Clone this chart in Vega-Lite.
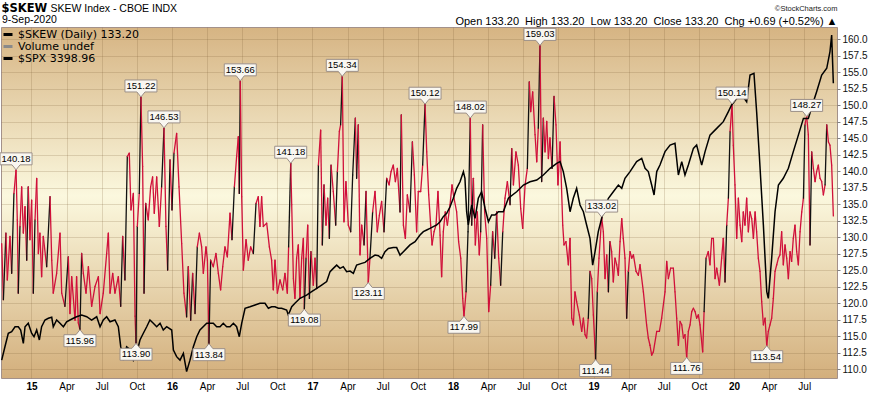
{
  "$schema": "https://vega.github.io/schema/vega-lite/v6.json",
  "width": 836,
  "height": 351,
  "autosize": {"type": "none"},
  "padding": {"left": 1, "top": 27, "right": 33, "bottom": 15},
  "background": "#ffffff",
  "config": {
    "view": {
      "fill": {"gradient": "linear", "x1": 0, "y1": 0, "x2": 0, "y2": 1,
        "stops": [{"offset": 0, "color": "#d6b483"}, {"offset": 0.48, "color": "#fbf8de"}, {"offset": 1, "color": "#d3af7c"}]},
      "stroke": "#a3918a",
      "strokeWidth": 1
    },
    "font": "Liberation Sans"
  },
  "datasets": {
    "skew": [
      {"t":2014.788,"v":129.0},{"t":2014.800,"v":120.5},{"t":2014.818,"v":130.6},{"t":2014.828,"v":123.5},{"t":2014.847,"v":130.1},{"t":2014.859,"v":124.5},{"t":2014.875,"v":136.6},{"t":2014.890,"v":140.18},{"t":2014.899,"v":132.6},{"t":2014.906,"v":121.5},{"t":2014.918,"v":131.6},{"t":2014.930,"v":137.6},{"t":2014.942,"v":130.6},{"t":2014.954,"v":134.6},{"t":2014.966,"v":126.5},{"t":2014.977,"v":137.6},{"t":2014.989,"v":129.6},{"t":2015.001,"v":135.6},{"t":2015.013,"v":121.5},{"t":2015.025,"v":132.6},{"t":2015.037,"v":138.9},{"t":2015.049,"v":127.5},{"t":2015.060,"v":130.6},{"t":2015.072,"v":124.0},{"t":2015.084,"v":130.1},{"t":2015.108,"v":125.5},{"t":2015.132,"v":136.1},{"t":2015.144,"v":126.5},{"t":2015.155,"v":121.5},{"t":2015.179,"v":124.5},{"t":2015.203,"v":130.6},{"t":2015.215,"v":121.5},{"t":2015.238,"v":119.5},{"t":2015.262,"v":127.0},{"t":2015.274,"v":118.4},{"t":2015.286,"v":124.0},{"t":2015.310,"v":117.4},{"t":2015.321,"v":124.0},{"t":2015.333,"v":117.0},{"t":2015.345,"v":115.96},{"t":2015.357,"v":127.5},{"t":2015.369,"v":124.5},{"t":2015.388,"v":121.5},{"t":2015.405,"v":125.5},{"t":2015.428,"v":119.5},{"t":2015.452,"v":122.5},{"t":2015.476,"v":124.0},{"t":2015.488,"v":118.4},{"t":2015.511,"v":121.5},{"t":2015.535,"v":127.5},{"t":2015.547,"v":130.6},{"t":2015.559,"v":121.5},{"t":2015.578,"v":124.5},{"t":2015.594,"v":121.5},{"t":2015.618,"v":124.0},{"t":2015.635,"v":119.5},{"t":2015.649,"v":130.1},{"t":2015.665,"v":123.5},{"t":2015.682,"v":142.2},{"t":2015.696,"v":142.7},{"t":2015.708,"v":134.1},{"t":2015.725,"v":136.6},{"t":2015.737,"v":118.0},{"t":2015.744,"v":113.90},{"t":2015.753,"v":131.6},{"t":2015.767,"v":136.6},{"t":2015.779,"v":151.22},{"t":2015.791,"v":140.7},{"t":2015.801,"v":121.5},{"t":2015.813,"v":135.1},{"t":2015.831,"v":132.6},{"t":2015.848,"v":137.6},{"t":2015.862,"v":139.1},{"t":2015.874,"v":133.6},{"t":2015.891,"v":139.1},{"t":2015.910,"v":131.6},{"t":2015.926,"v":137.6},{"t":2015.943,"v":146.53},{"t":2015.957,"v":131.6},{"t":2015.969,"v":125.0},{"t":2015.986,"v":141.7},{"t":2016.000,"v":134.1},{"t":2016.014,"v":142.7},{"t":2016.033,"v":145.7},{"t":2016.050,"v":137.6},{"t":2016.069,"v":129.0},{"t":2016.085,"v":121.5},{"t":2016.104,"v":117.9},{"t":2016.116,"v":125.5},{"t":2016.133,"v":117.4},{"t":2016.147,"v":124.5},{"t":2016.164,"v":118.4},{"t":2016.180,"v":128.5},{"t":2016.195,"v":130.6},{"t":2016.211,"v":128.5},{"t":2016.223,"v":124.5},{"t":2016.242,"v":128.5},{"t":2016.252,"v":126.5},{"t":2016.263,"v":113.84},{"t":2016.275,"v":126.5},{"t":2016.294,"v":125.5},{"t":2016.313,"v":127.5},{"t":2016.330,"v":124.5},{"t":2016.346,"v":122.0},{"t":2016.361,"v":125.5},{"t":2016.377,"v":128.5},{"t":2016.394,"v":127.0},{"t":2016.413,"v":133.6},{"t":2016.427,"v":129.6},{"t":2016.444,"v":137.6},{"t":2016.460,"v":142.2},{"t":2016.472,"v":145.2},{"t":2016.479,"v":136.6},{"t":2016.486,"v":153.66},{"t":2016.496,"v":136.1},{"t":2016.508,"v":125.0},{"t":2016.527,"v":129.6},{"t":2016.543,"v":126.5},{"t":2016.560,"v":128.5},{"t":2016.579,"v":127.5},{"t":2016.598,"v":135.1},{"t":2016.614,"v":136.1},{"t":2016.626,"v":131.6},{"t":2016.638,"v":136.1},{"t":2016.650,"v":131.6},{"t":2016.674,"v":132.1},{"t":2016.693,"v":128.5},{"t":2016.709,"v":126.5},{"t":2016.721,"v":122.0},{"t":2016.733,"v":126.5},{"t":2016.750,"v":121.5},{"t":2016.769,"v":123.5},{"t":2016.788,"v":122.0},{"t":2016.804,"v":124.5},{"t":2016.821,"v":121.5},{"t":2016.830,"v":128.5},{"t":2016.845,"v":141.18},
      {"t":2016.852,"v":134.9},{"t":2016.864,"v":123.7},{"t":2016.875,"v":120.7},{"t":2016.887,"v":126.8},{"t":2016.899,"v":128.8},{"t":2016.911,"v":120.7},{"t":2016.923,"v":126.8},{"t":2016.935,"v":129.8},{"t":2016.942,"v":119.08},{"t":2016.954,"v":126.8},{"t":2016.966,"v":131.8},{"t":2016.978,"v":120.7},{"t":2016.989,"v":127.8},{"t":2017.006,"v":122.7},{"t":2017.018,"v":126.8},{"t":2017.030,"v":122.2},{"t":2017.042,"v":140.9},{"t":2017.058,"v":146.2},{"t":2017.070,"v":128.8},{"t":2017.082,"v":137.9},{"t":2017.096,"v":131.8},{"t":2017.108,"v":135.9},{"t":2017.120,"v":129.8},{"t":2017.132,"v":140.9},{"t":2017.148,"v":136.9},{"t":2017.165,"v":131.8},{"t":2017.177,"v":139.9},{"t":2017.191,"v":146.0},{"t":2017.200,"v":147.0},{"t":2017.212,"v":154.34},{"t":2017.224,"v":132.3},{"t":2017.238,"v":138.4},{"t":2017.255,"v":131.8},{"t":2017.272,"v":130.8},{"t":2017.286,"v":139.4},{"t":2017.305,"v":148.0},{"t":2017.314,"v":138.9},{"t":2017.326,"v":147.0},{"t":2017.338,"v":127.3},{"t":2017.350,"v":131.8},{"t":2017.367,"v":128.8},{"t":2017.381,"v":136.9},{"t":2017.397,"v":123.11},{"t":2017.409,"v":126.8},{"t":2017.428,"v":133.8},{"t":2017.445,"v":136.9},{"t":2017.461,"v":130.8},{"t":2017.476,"v":133.3},{"t":2017.492,"v":135.4},{"t":2017.509,"v":130.8},{"t":2017.528,"v":138.9},{"t":2017.545,"v":137.9},{"t":2017.559,"v":139.9},{"t":2017.575,"v":140.9},{"t":2017.590,"v":138.4},{"t":2017.604,"v":140.4},{"t":2017.623,"v":133.8},{"t":2017.632,"v":148.5},{"t":2017.647,"v":131.8},{"t":2017.661,"v":129.8},{"t":2017.675,"v":136.4},{"t":2017.694,"v":133.8},{"t":2017.711,"v":144.4},{"t":2017.725,"v":139.4},{"t":2017.741,"v":130.8},{"t":2017.753,"v":136.9},{"t":2017.770,"v":136.9},{"t":2017.784,"v":140.9},{"t":2017.801,"v":150.12},{"t":2017.813,"v":142.9},{"t":2017.827,"v":136.4},{"t":2017.841,"v":131.8},{"t":2017.851,"v":128.8},{"t":2017.865,"v":130.8},{"t":2017.879,"v":131.8},{"t":2017.893,"v":136.9},{"t":2017.908,"v":130.3},{"t":2017.919,"v":124.0},{"t":2017.931,"v":130.8},{"t":2017.945,"v":133.8},{"t":2017.960,"v":131.8},{"t":2017.979,"v":134.9},{"t":2017.993,"v":137.9},{"t":2018.007,"v":135.9},{"t":2018.026,"v":133.8},{"t":2018.040,"v":129.3},{"t":2018.055,"v":126.8},{"t":2018.069,"v":120.7},{"t":2018.078,"v":117.99},{"t":2018.093,"v":121.7},{"t":2018.107,"v":130.8},{"t":2018.123,"v":148.02},{"t":2018.133,"v":131.8},{"t":2018.145,"v":138.9},{"t":2018.159,"v":128.8},{"t":2018.173,"v":133.8},{"t":2018.187,"v":127.3},{"t":2018.197,"v":130.8},{"t":2018.211,"v":147.0},{"t":2018.225,"v":133.8},{"t":2018.240,"v":129.8},{"t":2018.254,"v":118.7},{"t":2018.268,"v":122.7},{"t":2018.282,"v":130.8},{"t":2018.297,"v":126.8},{"t":2018.311,"v":133.8},{"t":2018.325,"v":126.8},{"t":2018.339,"v":122.7},{"t":2018.354,"v":130.8},{"t":2018.370,"v":135.9},{"t":2018.387,"v":138.4},{"t":2018.406,"v":134.9},{"t":2018.418,"v":143.4},{"t":2018.430,"v":137.9},{"t":2018.448,"v":142.9},{"t":2018.465,"v":140.9},{"t":2018.482,"v":134.3},{"t":2018.496,"v":131.3},{"t":2018.513,"v":137.9},{"t":2018.529,"v":140.4},{"t":2018.543,"v":153.5},{"t":2018.553,"v":149.0},{"t":2018.567,"v":152.0},{"t":2018.584,"v":145.5},{"t":2018.596,"v":141.4},{"t":2018.607,"v":146.5},{"t":2018.619,"v":159.03},{"t":2018.631,"v":138.4},{"t":2018.643,"v":148.0},{"t":2018.655,"v":142.9},{"t":2018.667,"v":147.5},{"t":2018.679,"v":141.9},{"t":2018.690,"v":145.0},{"t":2018.705,"v":140.4},{"t":2018.719,"v":151.3},{"t":2018.733,"v":147.0},{"t":2018.747,"v":137.9},{"t":2018.762,"v":144.4},
      {"t":2018.781,"v":131.8},{"t":2018.790,"v":128.8},{"t":2018.804,"v":129.3},{"t":2018.821,"v":125.8},{"t":2018.833,"v":129.8},{"t":2018.845,"v":117.7},{"t":2018.857,"v":116.7},{"t":2018.868,"v":121.7},{"t":2018.880,"v":120.2},{"t":2018.899,"v":118.2},{"t":2018.916,"v":115.7},{"t":2018.928,"v":117.7},{"t":2018.940,"v":115.2},{"t":2018.951,"v":114.7},{"t":2018.963,"v":117.7},{"t":2018.975,"v":124.8},{"t":2018.987,"v":123.7},{"t":2018.999,"v":118.2},{"t":2019.015,"v":111.44},{"t":2019.027,"v":121.7},{"t":2019.039,"v":126.8},{"t":2019.058,"v":133.02},{"t":2019.070,"v":130.8},{"t":2019.082,"v":123.7},{"t":2019.094,"v":127.3},{"t":2019.106,"v":121.7},{"t":2019.117,"v":129.3},{"t":2019.129,"v":127.8},{"t":2019.141,"v":123.2},{"t":2019.153,"v":126.8},{"t":2019.165,"v":125.8},{"t":2019.177,"v":124.2},{"t":2019.189,"v":129.3},{"t":2019.201,"v":132.8},{"t":2019.212,"v":129.8},{"t":2019.224,"v":126.8},{"t":2019.236,"v":117.7},{"t":2019.248,"v":124.8},{"t":2019.260,"v":127.8},{"t":2019.272,"v":126.8},{"t":2019.284,"v":127.3},{"t":2019.303,"v":124.8},{"t":2019.319,"v":124.2},{"t":2019.331,"v":125.8},{"t":2019.355,"v":121.7},{"t":2019.378,"v":116.7},{"t":2019.390,"v":114.7},{"t":2019.402,"v":113.6},{"t":2019.414,"v":112.1},{"t":2019.426,"v":112.6},{"t":2019.450,"v":115.7},{"t":2019.469,"v":115.7},{"t":2019.485,"v":117.7},{"t":2019.509,"v":121.7},{"t":2019.521,"v":126.3},{"t":2019.533,"v":123.7},{"t":2019.549,"v":125.3},{"t":2019.568,"v":125.3},{"t":2019.580,"v":121.7},{"t":2019.592,"v":117.7},{"t":2019.604,"v":113.6},{"t":2019.616,"v":117.2},{"t":2019.628,"v":116.7},{"t":2019.640,"v":114.7},{"t":2019.651,"v":115.2},{"t":2019.663,"v":111.76},{"t":2019.675,"v":115.7},{"t":2019.687,"v":116.7},{"t":2019.699,"v":118.7},{"t":2019.711,"v":119.2},{"t":2019.723,"v":118.7},{"t":2019.734,"v":117.7},{"t":2019.746,"v":118.2},{"t":2019.758,"v":116.7},{"t":2019.777,"v":112.6},{"t":2019.787,"v":118.7},{"t":2019.801,"v":126.8},{"t":2019.817,"v":127.8},{"t":2019.829,"v":125.8},{"t":2019.841,"v":129.8},{"t":2019.853,"v":129.8},{"t":2019.865,"v":123.7},{"t":2019.877,"v":125.3},{"t":2019.896,"v":122.7},{"t":2019.912,"v":126.8},{"t":2019.924,"v":129.8},{"t":2019.936,"v":123.2},{"t":2019.948,"v":131.8},{"t":2019.960,"v":135.9},{"t":2019.972,"v":146.0},{"t":2019.986,"v":150.14},{"t":2019.995,"v":143.9},{"t":2020.007,"v":137.9},{"t":2020.019,"v":129.8},{"t":2020.031,"v":135.9},{"t":2020.043,"v":131.8},{"t":2020.055,"v":129.3},{"t":2020.066,"v":133.8},{"t":2020.078,"v":131.8},{"t":2020.090,"v":135.9},{"t":2020.102,"v":130.8},{"t":2020.114,"v":133.8},{"t":2020.126,"v":132.8},{"t":2020.138,"v":129.8},{"t":2020.150,"v":133.8},{"t":2020.161,"v":130.8},{"t":2020.173,"v":126.8},{"t":2020.185,"v":124.8},{"t":2020.197,"v":120.2},{"t":2020.209,"v":116.7},{"t":2020.221,"v":117.7},{"t":2020.233,"v":113.54},{"t":2020.244,"v":115.7},{"t":2020.256,"v":116.7},{"t":2020.268,"v":117.7},{"t":2020.280,"v":120.7},{"t":2020.292,"v":124.8},{"t":2020.304,"v":125.8},{"t":2020.316,"v":126.8},{"t":2020.327,"v":127.3},{"t":2020.339,"v":130.8},{"t":2020.351,"v":125.8},{"t":2020.363,"v":128.8},{"t":2020.375,"v":126.8},{"t":2020.387,"v":123.7},{"t":2020.399,"v":127.8},{"t":2020.410,"v":126.3},{"t":2020.422,"v":129.8},{"t":2020.434,"v":131.8},{"t":2020.446,"v":127.8},{"t":2020.458,"v":125.8},{"t":2020.470,"v":130.8},{"t":2020.482,"v":133.8},{"t":2020.494,"v":135.9},{"t":2020.505,"v":147.0},{"t":2020.517,"v":148.27},{"t":2020.529,"v":145.5},{"t":2020.541,"v":128.8},{"t":2020.553,"v":142.9},{"t":2020.565,"v":140.4},{"t":2020.577,"v":138.4},{"t":2020.588,"v":139.9},{"t":2020.600,"v":140.9},{"t":2020.612,"v":138.9},{"t":2020.624,"v":138.4},{"t":2020.636,"v":136.4},{"t":2020.648,"v":137.9},{"t":2020.660,"v":147.0},{"t":2020.672,"v":144.4},{"t":2020.683,"v":143.9},{"t":2020.695,"v":140.9},{"t":2020.707,"v":133.2}
    ],
    "spx": [
      {"t":2014.788,"s":1889},{"t":2014.811,"s":1959},{"t":2014.835,"s":2029},{"t":2014.859,"s":2037},{"t":2014.883,"s":2063},{"t":2014.906,"s":2063},{"t":2014.923,"s":2046},{"t":2014.942,"s":1976},{"t":2014.954,"s":2063},{"t":2014.977,"s":2081},{"t":2015.001,"s":2029},{"t":2015.018,"s":2011},{"t":2015.037,"s":2046},{"t":2015.056,"s":1994},{"t":2015.072,"s":2063},{"t":2015.096,"s":2098},{"t":2015.120,"s":2107},{"t":2015.144,"s":2112},{"t":2015.155,"s":2063},{"t":2015.179,"s":2098},{"t":2015.203,"s":2081},{"t":2015.227,"s":2063},{"t":2015.250,"s":2089},{"t":2015.274,"s":2098},{"t":2015.298,"s":2107},{"t":2015.321,"s":2115},{"t":2015.357,"s":2124},{"t":2015.393,"s":2115},{"t":2015.428,"s":2098},{"t":2015.464,"s":2115},{"t":2015.488,"s":2063},{"t":2015.511,"s":2098},{"t":2015.535,"s":2115},{"t":2015.559,"s":2089},{"t":2015.594,"s":2098},{"t":2015.618,"s":2063},{"t":2015.635,"s":1959},{"t":2015.654,"s":1889},{"t":2015.677,"s":1959},{"t":2015.706,"s":1942},{"t":2015.725,"s":1889},{"t":2015.749,"s":1924},{"t":2015.772,"s":1994},{"t":2015.796,"s":2029},{"t":2015.820,"s":2063},{"t":2015.843,"s":2098},{"t":2015.867,"s":2081},{"t":2015.891,"s":2063},{"t":2015.915,"s":2081},{"t":2015.938,"s":2046},{"t":2015.962,"s":2063},{"t":2015.998,"s":2046},{"t":2016.010,"s":1942},{"t":2016.033,"s":1907},{"t":2016.057,"s":1889},{"t":2016.081,"s":1924},{"t":2016.104,"s":1829},{"t":2016.128,"s":1889},{"t":2016.152,"s":1959},{"t":2016.176,"s":2011},{"t":2016.199,"s":2046},{"t":2016.247,"s":2081},{"t":2016.294,"s":2081},{"t":2016.318,"s":2063},{"t":2016.342,"s":2063},{"t":2016.365,"s":2081},{"t":2016.389,"s":2063},{"t":2016.413,"s":2063},{"t":2016.437,"s":2081},{"t":2016.460,"s":2063},{"t":2016.479,"s":2011},{"t":2016.496,"s":2081},{"t":2016.520,"s":2159},{"t":2016.555,"s":2167},{"t":2016.591,"s":2176},{"t":2016.626,"s":2185},{"t":2016.662,"s":2185},{"t":2016.686,"s":2159},{"t":2016.709,"s":2167},{"t":2016.733,"s":2167},{"t":2016.757,"s":2159},{"t":2016.780,"s":2159},{"t":2016.816,"s":2150},{"t":2016.828,"s":2124},{"t":2016.852,"s":2167},{"t":2016.875,"s":2185},{"t":2016.911,"s":2211},
      {"t":2016.958,"s":2228},{"t":2016.994,"s":2246},{"t":2017.030,"s":2263},{"t":2017.065,"s":2280},{"t":2017.101,"s":2298},{"t":2017.125,"s":2350},{"t":2017.148,"s":2367},{"t":2017.172,"s":2384},{"t":2017.196,"s":2367},{"t":2017.219,"s":2376},{"t":2017.243,"s":2350},{"t":2017.267,"s":2353},{"t":2017.291,"s":2341},{"t":2017.314,"s":2384},{"t":2017.350,"s":2393},{"t":2017.374,"s":2398},{"t":2017.409,"s":2419},{"t":2017.445,"s":2436},{"t":2017.469,"s":2433},{"t":2017.492,"s":2419},{"t":2017.516,"s":2454},{"t":2017.540,"s":2471},{"t":2017.575,"s":2475},{"t":2017.599,"s":2475},{"t":2017.623,"s":2436},{"t":2017.647,"s":2454},{"t":2017.670,"s":2471},{"t":2017.694,"s":2489},{"t":2017.730,"s":2506},{"t":2017.765,"s":2541},{"t":2017.789,"s":2558},{"t":2017.813,"s":2567},{"t":2017.836,"s":2575},{"t":2017.860,"s":2584},{"t":2017.884,"s":2593},{"t":2017.908,"s":2610},{"t":2017.931,"s":2636},{"t":2017.955,"s":2654},{"t":2017.979,"s":2688},{"t":2018.002,"s":2732},{"t":2018.026,"s":2784},{"t":2018.050,"s":2818},{"t":2018.074,"s":2870},{"t":2018.085,"s":2836},{"t":2018.097,"s":2662},{"t":2018.109,"s":2593},{"t":2018.133,"s":2697},{"t":2018.157,"s":2627},{"t":2018.180,"s":2732},{"t":2018.204,"s":2766},{"t":2018.228,"s":2680},{"t":2018.252,"s":2610},{"t":2018.275,"s":2645},{"t":2018.299,"s":2645},{"t":2018.323,"s":2662},{"t":2018.358,"s":2662},{"t":2018.394,"s":2732},{"t":2018.453,"s":2766},{"t":2018.501,"s":2801},{"t":2018.548,"s":2818},{"t":2018.596,"s":2827},{"t":2018.643,"s":2853},{"t":2018.691,"s":2888},{"t":2018.738,"s":2914},{"t":2018.762,"s":2923},
      {"t":2018.785,"s":2871},{"t":2018.809,"s":2784},{"t":2018.833,"s":2662},{"t":2018.856,"s":2732},{"t":2018.880,"s":2784},{"t":2018.904,"s":2697},{"t":2018.928,"s":2662},{"t":2018.951,"s":2593},{"t":2018.975,"s":2523},{"t":2018.994,"s":2384},{"t":2019.011,"s":2454},{"t":2019.034,"s":2558},{"t":2019.070,"s":2662},{"t":2019.106,"s":2732},{"t":2019.141,"s":2766},{"t":2019.177,"s":2801},{"t":2019.201,"s":2784},{"t":2019.224,"s":2836},{"t":2019.260,"s":2871},{"t":2019.307,"s":2923},{"t":2019.343,"s":2940},{"t":2019.367,"s":2888},{"t":2019.390,"s":2871},{"t":2019.414,"s":2801},{"t":2019.431,"s":2749},{"t":2019.450,"s":2871},{"t":2019.473,"s":2905},{"t":2019.509,"s":2975},{"t":2019.545,"s":3009},{"t":2019.580,"s":3018},{"t":2019.604,"s":2853},{"t":2019.628,"s":2923},{"t":2019.651,"s":2853},{"t":2019.675,"s":2905},{"t":2019.711,"s":2992},{"t":2019.734,"s":3009},{"t":2019.770,"s":2905},{"t":2019.794,"s":2975},{"t":2019.829,"s":3061},{"t":2019.877,"s":3096},{"t":2019.924,"s":3131},{"t":2019.960,"s":3183},{"t":2019.983,"s":3218},{"t":2020.019,"s":3252},{"t":2020.055,"s":3270},{"t":2020.090,"s":3235},{"t":2020.114,"s":3374},{"t":2020.142,"s":3383},{"t":2020.161,"s":3183},{"t":2020.180,"s":2957},{"t":2020.209,"s":2593},{"t":2020.233,"s":2246},{"t":2020.244,"s":2211},{"t":2020.268,"s":2419},{"t":2020.292,"s":2662},{"t":2020.316,"s":2801},{"t":2020.351,"s":2836},{"t":2020.387,"s":2888},{"t":2020.422,"s":2975},{"t":2020.458,"s":3061},{"t":2020.494,"s":3148},{"t":2020.529,"s":3148},{"t":2020.565,"s":3235},{"t":2020.588,"s":3287},{"t":2020.624,"s":3374},{"t":2020.660,"s":3409},{"t":2020.683,"s":3496},{"t":2020.695,"s":3582},{"t":2020.707,"s":3331}
    ],
    "ann": [
      {"t":2014.890,"v":140.18,"kind":"high"},{"t":2015.345,"v":115.96,"kind":"low"},{"t":2015.779,"v":151.22,"kind":"high"},{"t":2015.744,"v":113.90,"kind":"low"},{"t":2015.943,"v":146.53,"kind":"high"},{"t":2016.263,"v":113.84,"kind":"low"},{"t":2016.486,"v":153.66,"kind":"high"},{"t":2016.845,"v":141.18,"kind":"high"},{"t":2016.942,"v":119.08,"kind":"low"},{"t":2017.212,"v":154.34,"kind":"high"},{"t":2017.397,"v":123.11,"kind":"low"},{"t":2017.801,"v":150.12,"kind":"high"},{"t":2018.078,"v":117.99,"kind":"low"},{"t":2018.123,"v":148.02,"kind":"high"},{"t":2018.619,"v":159.03,"kind":"high"},{"t":2019.058,"v":133.02,"kind":"high"},{"t":2019.015,"v":111.44,"kind":"low"},{"t":2019.663,"v":111.76,"kind":"low"},{"t":2019.986,"v":150.14,"kind":"high"},{"t":2020.233,"v":113.54,"kind":"low"},{"t":2020.517,"v":148.27,"kind":"high"}
    ]
  },
  "resolve": {"scale": {"y": "independent"}, "axis": {"x": "independent"}},
  "layer": [
    {
      "data": {"name": "skew"},
      "transform": [
        {"window": [{"op": "lag", "field": "t", "as": "t0"}, {"op": "lag", "field": "v", "as": "v0"}], "sort": [{"field": "t", "order": "ascending"}]},
        {"filter": "datum.t0 != null"}
      ],
      "mark": {"type": "rule", "strokeWidth": 1.3, "strokeCap": "round"},
      "encoding": {
        "x": {"field": "t0", "type": "quantitative",
          "scale": {"domain": [2014.783, 2020.733], "nice": false, "zero": false},
          "axis": {"orient": "bottom",
            "values": [2015,2015.25,2015.5,2015.75,2016,2016.25,2016.5,2016.75,2017,2017.25,2017.5,2017.75,2018,2018.25,2018.5,2018.75,2019,2019.25,2019.5,2019.75,2020,2020.25,2020.5],
            "labelExpr": "datum.value % 1 == 0 ? slice(toString(datum.value), 2) : (datum.value % 1 == 0.25 ? 'Apr' : (datum.value % 1 == 0.5 ? 'Jul' : 'Oct'))",
            "labelFontWeight": {"condition": {"test": "datum.value % 1 == 0", "value": "bold"}, "value": "normal"},
            "labelFont": "Liberation Sans", "labelFontSize": 10, "labelColor": "#000000", "labelPadding": 3,
            "labelFlush": false, "labelOverlap": false,
            "ticks": false, "domain": false,
            "grid": true, "gridColor": "#785a32", "gridOpacity": 0.2, "gridWidth": 1,
            "title": "Open 133.20\u00a0\u00a0High 133.20\u00a0\u00a0Low 133.20\u00a0\u00a0Close 133.20\u00a0\u00a0Chg +0.69 (+0.52%) \u25b2",
            "titleX": 836, "titleY": -354, "titleAlign": "right", "titleAngle": 0, "titleBaseline": "alphabetic",
            "titleFont": "Liberation Sans", "titleFontSize": 11, "titleFontWeight": "normal", "titleColor": "#000000"}},
        "x2": {"field": "t"},
        "y": {"field": "v0", "type": "quantitative",
          "scale": {"domain": [108.64, 161.82], "nice": false, "zero": false},
          "axis": {"orient": "right",
            "values": [110,112.5,115,117.5,120,122.5,125,127.5,130,132.5,135,137.5,140,142.5,145,147.5,150,152.5,155,157.5,160],
            "format": ".1f", "labelFont": "Liberation Sans", "labelFontSize": 10, "labelColor": "#111111",
            "tickSize": 3, "tickColor": "#808080", "labelPadding": 2, "domain": false,
            "grid": true, "gridColor": "#785a32", "gridOpacity": 0.2, "gridWidth": 1,
            "title": "\u00a9StockCharts.com", "titleAngle": 0, "titleX": 0, "titleY": -17, "titleAlign": "right",
            "titleBaseline": "alphabetic", "titleFont": "Liberation Sans", "titleFontSize": 7.5, "titleFontWeight": "normal", "titleColor": "#222222"}},
        "y2": {"field": "v"},
        "color": {"condition": {"test": "datum.v - datum.v0 > 7", "value": "#111111"}, "value": "#d0103a"}
      }
    },
    {
      "data": {"name": "spx"},
      "mark": {"type": "line", "strokeWidth": 1.5},
      "encoding": {
        "x": {"field": "t", "type": "quantitative",
          "scale": {"domain": [2014.783, 2020.733], "nice": false, "zero": false},
          "axis": {"orient": "top", "labels": false, "ticks": false, "domain": false, "grid": false,
            "title": "$SKEW", "titleX": 0, "titleY": -16, "titleAlign": "left", "titleAngle": 0, "titleBaseline": "alphabetic",
            "titleFont": "DejaVu Sans", "titleFontSize": 11.5, "titleFontWeight": "bold", "titleColor": "#000000"}},
        "y": {"field": "s", "type": "quantitative",
          "scale": {"domain": [1796, 3624], "nice": false, "zero": false},
          "axis": {"orient": "left", "labels": false, "ticks": false, "domain": false, "grid": false,
            "title": "SKEW Index - CBOE INDX", "titleX": 49, "titleY": -16, "titleAlign": "left", "titleAngle": 0, "titleBaseline": "alphabetic",
            "titleFont": "Liberation Sans", "titleFontSize": 10.5, "titleFontWeight": "normal", "titleColor": "#000000"}},
        "color": {"datum": "$SPX 3398.96",
          "scale": {"domain": ["$SKEW (Daily) 133.20", "Volume undef", "$SPX 3398.96"], "range": ["#000000", "#8a8a8a", "#000000"]},
          "legend": {"orient": "none", "legendX": 1, "legendY": -12, "title": "9-Sep-2020",
            "titleFont": "Liberation Sans", "titleFontSize": 10.5, "titleFontWeight": "normal", "titleColor": "#000000", "titlePadding": 3,
            "labelFont": "DejaVu Sans", "labelFontSize": 11, "labelColor": "#000000", "labelOffset": 4,
            "symbolType": "stroke", "symbolSize": 81, "symbolStrokeWidth": 3, "rowPadding": 0, "padding": 0, "direction": "vertical"}}
      }
    },
    {
      "data": {"name": "ann"},
      "transform": [{"filter": "datum.kind == 'high'"}],
      "mark": {"type": "point", "shape": "M0,0L-0.25,-0.3125L-1,-0.3125L-1,-1.0625L1,-1.0625L1,-0.3125L0.25,-0.3125Z", "size": 1024, "filled": true, "fill": "#f9f7f1", "stroke": "#9b8f88", "strokeWidth": 1, "opacity": 1},
      "encoding": {
        "x": {"field": "t", "type": "quantitative", "scale": {"domain": [2014.783, 2020.733], "nice": false, "zero": false}, "axis": null},
        "y": {"field": "v", "type": "quantitative", "scale": {"domain": [108.64, 161.82], "nice": false, "zero": false}, "axis": null}
      }
    },
    {
      "data": {"name": "ann"},
      "transform": [{"filter": "datum.kind == 'high'"}],
      "mark": {"type": "text", "dy": -11, "baseline": "middle", "align": "center", "font": "Liberation Sans", "fontSize": 9.5, "color": "#000000"},
      "encoding": {
        "x": {"field": "t", "type": "quantitative", "scale": {"domain": [2014.783, 2020.733], "nice": false, "zero": false}, "axis": null},
        "y": {"field": "v", "type": "quantitative", "scale": {"domain": [108.64, 161.82], "nice": false, "zero": false}, "axis": null},
        "text": {"field": "v", "type": "quantitative", "format": ".2f"}
      }
    },
    {
      "data": {"name": "ann"},
      "transform": [{"filter": "datum.kind == 'low'"}],
      "mark": {"type": "point", "shape": "M0,0L-0.25,0.3125L-1,0.3125L-1,1.0625L1,1.0625L1,0.3125L0.25,0.3125Z", "size": 1024, "filled": true, "fill": "#f9f7f1", "stroke": "#9b8f88", "strokeWidth": 1, "opacity": 1},
      "encoding": {
        "x": {"field": "t", "type": "quantitative", "scale": {"domain": [2014.783, 2020.733], "nice": false, "zero": false}, "axis": null},
        "y": {"field": "v", "type": "quantitative", "scale": {"domain": [108.64, 161.82], "nice": false, "zero": false}, "axis": null}
      }
    },
    {
      "data": {"name": "ann"},
      "transform": [{"filter": "datum.kind == 'low'"}],
      "mark": {"type": "text", "dy": 11, "baseline": "middle", "align": "center", "font": "Liberation Sans", "fontSize": 9.5, "color": "#000000"},
      "encoding": {
        "x": {"field": "t", "type": "quantitative", "scale": {"domain": [2014.783, 2020.733], "nice": false, "zero": false}, "axis": null},
        "y": {"field": "v", "type": "quantitative", "scale": {"domain": [108.64, 161.82], "nice": false, "zero": false}, "axis": null},
        "text": {"field": "v", "type": "quantitative", "format": ".2f"}
      }
    }
  ]
}
